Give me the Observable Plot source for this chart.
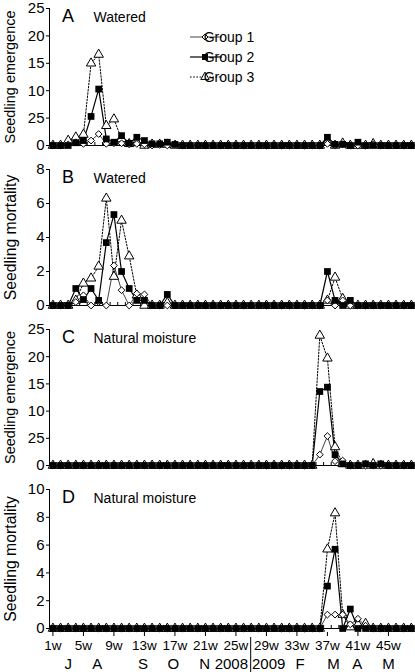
<!DOCTYPE html>
<html><head><meta charset="utf-8">
<script src="https://cdn.jsdelivr.net/npm/d3@7"></script>
<script src="https://cdn.jsdelivr.net/npm/@observablehq/plot@0.6"></script>
<style>
body{margin:0;background:#fff;}
#chart{width:415px;height:672px;background:#fff;}
#chart svg{display:block;}
</style></head><body><div id="chart"></div>
<script>
// ---------- data ----------
const weeks = d3.range(1, 49);
const groups = ["Group 1", "Group 2", "Group 3"];
const weekTicks = [1, 5, 9, 13, 17, 21, 25, 29, 33, 37, 41, 45];
const weekTickLabels = ["1w","5w","9w","13w","17w","21w","25w","29w","33w","37w","41w","45w"];
const monthLabels = ["J","A","S","O","N","2008","2009","F","M","A","M"];
const monthWeeks = [3, 6.8, 12.8, 16.8, 20.9, 24.4, 29.3, 33.4, 37.8, 40.9, 45];
const yearBreakWeek = 27;

const emergenceTicks = [0, 5, 10, 15, 20, 25];
const emergenceTickLabels = ["0", "25", "10", "15", "20", "25"];
const mortalityTicksB = [0, 2, 4, 6, 8];
const mortalityTickLabelsB = ["0", "2", "4", "6", "8"];
const mortalityTicksD = [0, 2, 4, 6, 8, 10];
const mortalityTickLabelsD = ["0", "2", "4", "6", "8", "10"];

// A: watered, emergence (weeks 1..48)
const wateredEmergenceG1 = [0,0,0.2,0.6,0.3,0.9,2.1,0.3,0.4,0.4,0.2,0.3,0.2,0,0.1,0,0.3,0,0,0,0,0,0,0,0,0,0,0,0,0,0,0,0,0,0,0,0.3,0,0.2,0,0,0,0.2,0,0,0,0,0];
const wateredEmergenceG2 = [0,0,0,0.5,0.9,5.3,10.3,1.2,0.6,1.8,0.4,1.5,0.9,0.3,0.3,0.6,0.2,0,0,0,0,0,0,0,0,0,0,0,0,0,0,0,0,0,0,0,1.5,0.2,0.2,0,0.6,0,0,0,0,0,0,0];
const wateredEmergenceG3 = [0,0,0.9,1.5,2.0,15.0,16.6,3.6,4.8,1.2,0.3,0.6,0,0.2,0.2,0.2,0,0,0,0,0,0,0,0,0,0,0,0,0,0,0,0,0,0,0,0,0.6,0,0.4,0,0,0,0.3,0,0,0,0,0];
// B: watered, mortality
const wateredMortalityG1 = [0,0,0,0.2,0.6,0,0.2,0,2.35,0.9,0,0.7,0.65,0,0,0,0,0,0,0,0,0,0,0,0,0,0,0,0,0,0,0,0,0,0,0,0.3,0,0.3,0,0,0,0,0,0,0,0,0];
const wateredMortalityG2 = [0,0,0,1.0,0.35,1.0,0.3,3.7,5.35,2.0,1.0,0.3,0.3,0,0,0.65,0,0,0,0,0,0,0,0,0,0,0,0,0,0,0,0,0,0,0,0,2.0,0.3,0,0.3,0,0,0,0,0,0,0,0];
const wateredMortalityG3 = [0,0,0,0.3,1.3,1.6,2.3,6.3,1.7,5.0,2.9,0.6,0,0,0,0.15,0,0,0,0,0,0,0,0,0,0,0,0,0,0,0,0,0,0,0,0,0.3,1.65,0.4,0,0,0,0,0,0,0,0,0];
// C: natural moisture, emergence
const naturalEmergenceG1 = [0,0,0,0,0,0,0,0,0,0,0,0,0,0,0,0,0,0,0,0,0,0,0,0,0,0,0,0,0,0,0,0,0,0,0,2.0,5.4,0.8,0.9,0,0,0,0,0,0,0,0,0];
const naturalEmergenceG2 = [0,0,0,0,0,0,0,0,0,0,0,0,0,0,0,0,0,0,0,0,0,0,0,0,0,0,0,0,0,0,0,0,0,0,0,13.6,14.4,2.0,0.3,0,0,0.3,0,0.3,0,0,0,0];
const naturalEmergenceG3 = [0,0,0,0,0,0,0,0,0,0,0,0,0,0,0,0,0,0,0,0,0,0,0,0,0,0,0,0,0,0,0,0,0,0,0,23.9,19.7,3.4,0.3,0,0,0,0.3,0,0,0,0,0];
// D: natural moisture, mortality
const naturalMortalityG1 = [0,0,0,0,0,0,0,0,0,0,0,0,0,0,0,0,0,0,0,0,0,0,0,0,0,0,0,0,0,0,0,0,0,0,0,0,1.0,1.0,1.0,0.3,0.7,0.2,0,0,0,0,0,0];
const naturalMortalityG2 = [0,0,0,0,0,0,0,0,0,0,0,0,0,0,0,0,0,0,0,0,0,0,0,0,0,0,0,0,0,0,0,0,0,0,0,0,3.05,5.7,0,1.4,0,0,0,0,0,0,0,0];
const naturalMortalityG3 = [0,0,0,0,0,0,0,0,0,0,0,0,0,0,0,0,0,0,0,0,0,0,0,0,0,0,0,0,0,0,0,0,0,0,0,0,5.7,8.3,1.0,0.1,0.3,0.35,0,0,0,0,0,0];

// ---------- drawing ----------
const W = 415;
const xDomain = [0.55, 48.55];
const FONT = '"Liberation Sans", Arial, Helvetica, sans-serif';

const diamond = {
  draw(ctx, size) {
    const r = Math.sqrt(size / Math.PI);
    ctx.moveTo(0, -r); ctx.lineTo(r, 0); ctx.lineTo(0, r); ctx.lineTo(-r, 0); ctx.closePath();
  }
};
const styleG = [
  {symbol: diamond, r: 3.4, fill: "white", stroke: "black", line: "#444", lw: 1, dash: null},
  {symbol: d3.symbolSquare, r: 3.8, fill: "black", stroke: "none", line: "black", lw: 1.2, dash: null},
  {symbol: d3.symbolTriangle, r: 3.5, fill: "white", stroke: "black", line: "black", lw: 1, dash: "1.6,1.6"}
];

function panel(p) {
  const rows = p.series.map(s => weeks.map((w, i) => ({week: w, value: s[i]})));
  const marks = [
    Plot.ruleY([0], {stroke: "black", strokeWidth: 1}),
    Plot.ruleX(weeks, {x: d => d + 0.5, y1: 0, y2: p.yMax * 0.022, stroke: "black", strokeWidth: 1}),
    Plot.ruleX([xDomain[0]], {y1: 0, y2: p.yMax, stroke: "black", strokeWidth: 1}),
    Plot.axisY({ticks: p.yTicks, tickFormat: d => p.yTickLabels[p.yTicks.indexOf(d)], tickSize: 3, tickPadding: 2, label: null, fontSize: 15}),
    Plot.text([p.title], {frameAnchor: "left", rotate: -90, dx: -39, fontSize: p.titleSize, textAnchor: "middle", lineAnchor: "middle", fill: "black"}),
    Plot.text([p.letter], {frameAnchor: "top-left", dx: 12.5, dy: 0.7, fontSize: 18, textAnchor: "start", lineAnchor: "top", fill: "black"}),
    Plot.text([p.label], {frameAnchor: "top-left", dx: 44, dy: 3.5, fontSize: 14, textAnchor: "start", lineAnchor: "top", fill: "black"})
  ];
  rows.forEach((r, g) => marks.push(Plot.line(r, {x: "week", y: "value", stroke: styleG[g].line, strokeWidth: styleG[g].lw, strokeDasharray: styleG[g].dash})));
  [2, 0, 1].forEach(g => marks.push(Plot.dot(rows[g], {x: "week", y: "value", symbol: styleG[g].symbol, r: styleG[g].r, fill: styleG[g].fill, stroke: styleG[g].stroke, strokeWidth: 1})));
  if (p.bottom) {
    marks.push(Plot.axisX({ticks: weekTicks, tickFormat: d => weekTickLabels[weekTicks.indexOf(d)], tickSize: 4, tickPadding: 4, dy: 4, fontSize: 13.5, label: null, anchor: "bottom"}));
    marks.push(Plot.text(monthLabels, {x: (d, i) => monthWeeks[i], frameAnchor: "bottom", lineAnchor: "middle", dy: 36, fontSize: 15, fill: "black"}));
  }
  const svg = Plot.plot({
    width: W, height: p.height, marginTop: p.mt, marginBottom: p.mb, marginLeft: 49, marginRight: 0,
    x: {domain: xDomain, axis: null},
    y: {domain: [0, p.yMax], axis: null},
    style: {fontFamily: FONT, fontSize: "15px", color: "black", background: "white", overflow: "visible"},
    marks
  });
  return svg;
}

const chart = document.getElementById("chart");

const svgA = panel({series: [wateredEmergenceG1, wateredEmergenceG2, wateredEmergenceG3], yMax: 25, yTicks: emergenceTicks, yTickLabels: emergenceTickLabels, title: "Seedling emergence", titleSize: 14.5, letter: "A", label: "Watered", height: 160, mt: 8, mb: 15});
const svgB = panel({series: [wateredMortalityG1, wateredMortalityG2, wateredMortalityG3], yMax: 8, yTicks: mortalityTicksB, yTickLabels: mortalityTickLabelsB, title: "Seedling mortality", titleSize: 15.8, letter: "B", label: "Watered", height: 160, mt: 9, mb: 15});
const svgC = panel({series: [naturalEmergenceG1, naturalEmergenceG2, naturalEmergenceG3], yMax: 25, yTicks: emergenceTicks, yTickLabels: emergenceTickLabels, title: "Seedling emergence", titleSize: 14.5, letter: "C", label: "Natural moisture", height: 160, mt: 9, mb: 15});
const svgD = panel({series: [naturalMortalityG1, naturalMortalityG2, naturalMortalityG3], yMax: 10, yTicks: mortalityTicksD, yTickLabels: mortalityTickLabelsD, title: "Seedling mortality", titleSize: 15.8, letter: "D", label: "Natural moisture", height: 192, mt: 9, mb: 44, bottom: true});

[svgA, svgB, svgC, svgD].forEach(s => chart.appendChild(s));

// 2008 | 2009 divider below the x axis of panel D
{
  const xs = svgD.scale("x"), ys = svgD.scale("y");
  const x = xs.apply(yearBreakWeek);
  d3.select(svgD).append("line")
    .attr("x1", x).attr("x2", x)
    .attr("y1", ys.apply(0) + 9).attr("y2", 192)
    .attr("stroke", "black").attr("stroke-width", 1);
}

// legend in panel A
{
  const L = d3.select(svgA).append("g").attr("font-family", FONT).attr("font-size", 14);
  groups.forEach((name, g) => {
    const y = 37 + g * 20;
    const st = styleG[g];
    L.append("line").attr("x1", 190).attr("x2", 222).attr("y1", y).attr("y2", y)
      .attr("stroke", st.line).attr("stroke-width", st.lw).attr("stroke-dasharray", st.dash);
    L.append("path").attr("transform", `translate(205,${y})`)
      .attr("d", d3.symbol(st.symbol, Math.PI * st.r * st.r * 0.8)())
      .attr("fill", st.fill).attr("stroke", st.stroke).attr("stroke-width", 1);
    L.append("text").attr("x", 229).attr("y", y).attr("dy", "0.35em").attr("fill", "black").text(name);
  });
}
</script>
</body></html>
